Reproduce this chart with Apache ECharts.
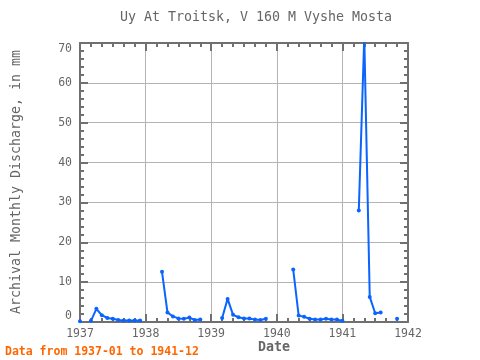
<!DOCTYPE html>
<html>
<head>
<meta charset="utf-8">
<script src="https://cdn.jsdelivr.net/npm/echarts@6/dist/echarts.min.js"></script>
<style>html,body{margin:0;padding:0;background:#fff}#c{width:480px;height:360px}</style>
</head>
<body>
<div id="c"></div>
<script>
var years = [1937, 1938, 1939, 1940, 1941];
var v1937 = [0.2, null, 0.3, 3.3, 1.7, 1.0, 0.8, 0.5, 0.4, 0.4, 0.4, 0.4];
var v1938 = [null, null, null, 12.6, 2.4, 1.4, 0.9, 0.8, 1.1, 0.5, 0.6, null];
var v1939 = [null, null, 1.0, 5.8, 1.8, 1.2, 0.9, 0.9, 0.6, 0.5, 0.8, null];
var v1940 = [null, null, null, 13.2, 1.6, 1.3, 0.8, 0.6, 0.6, 0.8, 0.6, 0.6];
var v1941 = [0.3, null, null, 28.0, 71.5, 6.3, 2.2, 2.4, null, null, 0.8, null];
var xTicks = [1937, 1938, 1939, 1940, 1941, 1942];
var yTicks = [0, 10, 20, 30, 40, 50, 60, 70];

var all = [v1937, v1938, v1939, v1940, v1941];
var data = [];
for (var i = 0; i < years.length; i++) {
  for (var m = 0; m < 12; m++) {
    data.push([years[i] + m / 12, all[i][m]]);
  }
}
var font = 'DejaVu Sans Mono';
var txt = '#666666';
var frame = '#707070';
var chart = echarts.init(document.getElementById('c'), null, {renderer: 'canvas'});
function xa(show) {
  return {
    type: 'value', min: xTicks[0], max: xTicks[xTicks.length - 1], interval: 1,
    position: show ? 'bottom' : 'top',
    axisLine: {show: true, onZero: false, lineStyle: {color: frame, width: 2}},
    axisTick: {show: true, inside: true, length: 8, lineStyle: {color: frame, width: 2}},
    minorTick: {show: true, splitNumber: 6, length: 4, lineStyle: {color: frame, width: 2}},
    axisLabel: {show: show, margin: 6, color: txt, fontFamily: font, fontSize: 11.5,
      formatter: function (v) { return String(Math.round(v)); }},
    splitLine: {show: show, lineStyle: {color: '#b4b4b4', width: 1}}
  };
}
function ya(show) {
  return {
    type: 'value', min: yTicks[0], max: yTicks[yTicks.length - 1], interval: 10,
    position: show ? 'left' : 'right',
    axisLine: {show: true, onZero: false, lineStyle: {color: frame, width: 2}},
    axisTick: {show: true, inside: true, length: 8, lineStyle: {color: frame, width: 2}},
    minorTick: {show: true, splitNumber: 5, length: 4, lineStyle: {color: frame, width: 2}},
    axisLabel: {show: show, margin: 8, color: txt, fontFamily: font, fontSize: 11.5,
      verticalAlignMaxLabel: 'top', verticalAlignMinLabel: 'bottom'},
    splitLine: {show: show, lineStyle: {color: '#b4b4b4', width: 1}}
  };
}
chart.setOption({
  animation: false,
  grid: {left: 80, right: 72, top: 43, bottom: 38},
  xAxis: [xa(true), xa(false)],
  yAxis: [ya(true), ya(false)],
  series: [{
    type: 'line', xAxisIndex: 0, yAxisIndex: 0, data: data,
    connectNulls: false, clip: true,
    showSymbol: true, symbol: 'circle', symbolSize: 4,
    itemStyle: {color: '#0a64ff'},
    lineStyle: {color: '#0a64ff', width: 2}
  }],
  graphic: [
    {type: 'text', x: 256, y: 18, style: {text: 'Uy At Troitsk, V 160 M Vyshe Mosta', fill: txt,
      font: '13.3px "DejaVu Sans Mono"', align: 'center', verticalAlign: 'middle'}},
    {type: 'text', x: 17, y: 182, rotation: Math.PI / 2, style: {text: 'Archival Monthly Discharge, in mm', fill: txt,
      font: '13.3px "DejaVu Sans Mono"', align: 'center', verticalAlign: 'middle'}},
    {type: 'text', x: 274, y: 348, style: {text: 'Date', fill: txt,
      font: 'bold 13.3px "DejaVu Sans Mono"', align: 'center', verticalAlign: 'middle'}},
    {type: 'text', x: 5, y: 352, style: {text: 'Data from 1937-01 to 1941-12', fill: '#ff6600',
      font: 'bold 11.5px "DejaVu Sans Mono"', align: 'left', verticalAlign: 'middle'}}
  ]
});
</script>
</body>
</html>
